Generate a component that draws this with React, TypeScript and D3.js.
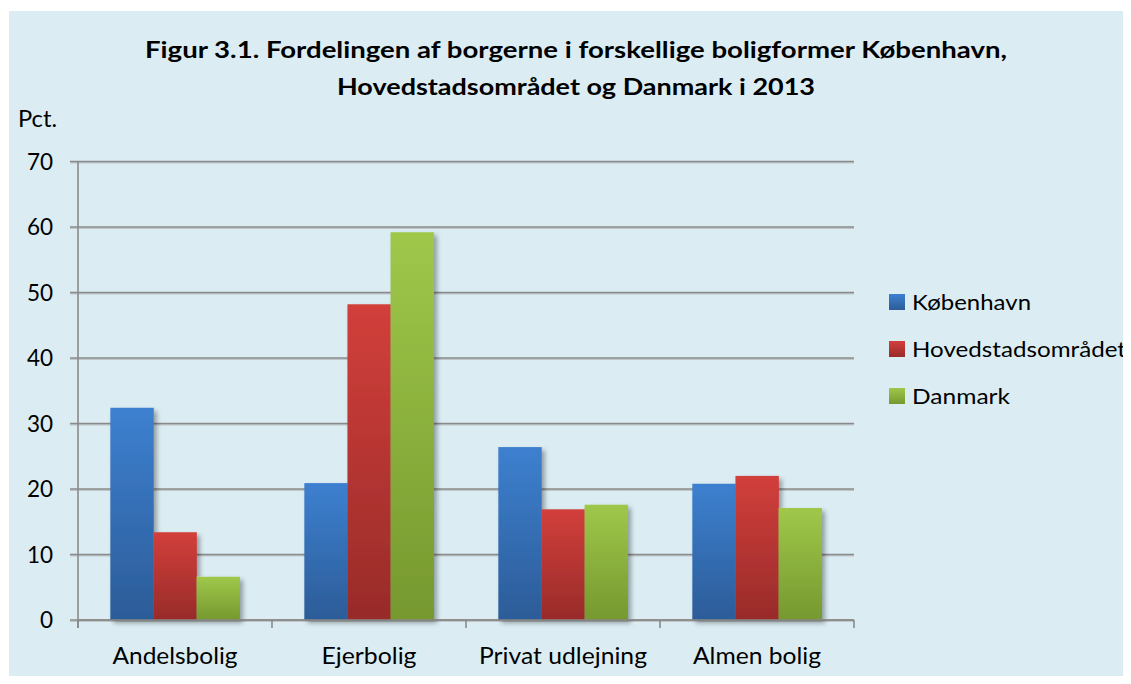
import React from "react";
import * as d3 from "d3";

const categories = ["Andelsbolig", "Ejerbolig", "Privat udlejning", "Almen bolig"];
const seriesNames = ["København", "Hovedstadsområdet", "Danmark"];
const kobenhavn = [32.4, 20.9, 26.4, 20.8];
const hovedstad = [13.4, 48.2, 16.9, 22.0];
const danmark = [6.6, 59.2, 17.6, 17.1];
const yTicks = [0, 10, 20, 30, 40, 50, 60, 70];
const titleLines = [
  "Figur 3.1. Fordelingen af borgerne i forskellige boligformer København,",
  "Hovedstadsområdet og Danmark i 2013",
];

// rendered text widths (layout only)
const titleWidths = [862, 478];
const catLabelWidths = [125, 95, 168, 128];
const legendWidths = [119, 214, 98];

const seriesValues = [kobenhavn, hovedstad, danmark];
const gradients = [
  ["#3D80D0", "#2C5C98"],
  ["#D23F3B", "#982B29"],
  ["#9FC84A", "#76982F"],
];

const W = 1131;
const H = 684;
const FONT = "Lato, 'Open Sans', sans-serif";

export default function App() {
  const plot = { left: 78, right: 854, top: 161.5, bottom: 620 };
  const x = d3.scaleBand<string>().domain(categories).range([plot.left, plot.right]).paddingInner(0).paddingOuter(0);
  const y = d3.scaleLinear().domain([0, 70]).range([plot.bottom, plot.top]);
  const bw = x.bandwidth();
  const barW = bw / 4.5;
  const x1 = d3.scaleBand<number>().domain([0, 1, 2]).range([0, barW * 3]);

  return (
    <div style={{ margin: -8 }}>
      <svg width={W} height={H} style={{ display: "block" }}>
        <defs>
          {gradients.map((g, i) => (
            <linearGradient key={i} id={`g${i}`} x1="0" y1="0" x2="0" y2="1">
              <stop offset="0" stopColor={g[0]} />
              <stop offset="1" stopColor={g[1]} />
            </linearGradient>
          ))}
          <filter id="shadow" x="-20%" y="-10%" width="150%" height="130%">
            <feGaussianBlur in="SourceAlpha" stdDeviation="2.5" />
            <feOffset dx="3" dy="3" result="ob" />
            <feComponentTransfer>
              <feFuncA type="linear" slope="0.35" />
            </feComponentTransfer>
            <feMerge>
              <feMergeNode />
              <feMergeNode in="SourceGraphic" />
            </feMerge>
          </filter>
        </defs>
        <rect x={0} y={0} width={W} height={H} fill="#ffffff" />
        <rect x={9} y={11} width={W - 9} height={H - 11} fill="#DBEDF3" />

        {/* title */}
        {titleLines.map((t, i) => (
          <text
            key={i}
            x={576}
            y={58 + i * 37}
            textAnchor="middle"
            fontFamily={FONT}
            fontWeight="bold"
            fontSize={23.5}
            fill="#000"
            textLength={titleWidths[i]}
            lengthAdjust="spacingAndGlyphs"
          >
            {t}
          </text>
        ))}

        <text x={18} y={127} fontFamily={FONT} fontSize={22.5} fill="#000" textLength={39} lengthAdjust="spacingAndGlyphs">
          Pct.
        </text>

        {/* gridlines */}
        {yTicks.map((t) => (
          <g key={t}>
            <line x1={70} x2={plot.right} y1={y(t) + 1.2} y2={y(t) + 1.2} stroke="#BFC6C9" strokeWidth={1.5} />
            <line x1={70} x2={plot.right} y1={y(t)} y2={y(t)} stroke="#8A8A8A" strokeWidth={1.6} />
            <text
              x={53}
              y={y(t)}
              dy="0.36em"
              textAnchor="end"
              fontFamily={FONT}
              fontSize={22.5}
              fill="#000"
            >
              {t}
            </text>
          </g>
        ))}
        <line x1={plot.left} x2={plot.left} y1={plot.top} y2={plot.bottom + 8} stroke="#8A8A8A" strokeWidth={1.6} />
        {[...categories.map((c) => x(c)!), plot.right].map((px, i) => (
          <line key={i} x1={px} x2={px} y1={plot.bottom} y2={plot.bottom + 8} stroke="#8A8A8A" strokeWidth={1.6} />
        ))}

        {/* bars */}
        {categories.map((c, ci) => (
          <g key={c} filter="url(#shadow)">
            {seriesValues.map((vals, si) => {
              const bx = x(c)! + barW * 0.75 + x1(si)!;
              return (
                <rect
                  key={si}
                  x={bx}
                  y={y(vals[ci])}
                  width={barW + 0.3}
                  height={y(0) - y(vals[ci])}
                  fill={`url(#g${si})`}
                />
              );
            })}
          </g>
        ))}
        <line x1={plot.left} x2={plot.right} y1={plot.bottom} y2={plot.bottom} stroke="#8A8A8A" strokeWidth={1.6} />

        {categories.map((c, i) => (
          <text
            key={c}
            x={x(c)! + bw / 2}
            y={664}
            textAnchor="middle"
            fontFamily={FONT}
            fontSize={22.5}
            fill="#000"
            textLength={catLabelWidths[i]}
            lengthAdjust="spacingAndGlyphs"
          >
            {c}
          </text>
        ))}

        {/* legend */}
        {seriesNames.map((n, i) => (
          <g key={n} transform={`translate(889, ${294 + i * 47})`}>
            <rect x={0} y={0} width={16} height={16} fill={`url(#g${i})`} />
            <text
              x={23}
              y={8}
              dy="0.36em"
              fontFamily={FONT}
              fontSize={22}
              fill="#000"
              textLength={legendWidths[i]}
              lengthAdjust="spacingAndGlyphs"
            >
              {n}
            </text>
          </g>
        ))}
      </svg>
    </div>
  );
}
